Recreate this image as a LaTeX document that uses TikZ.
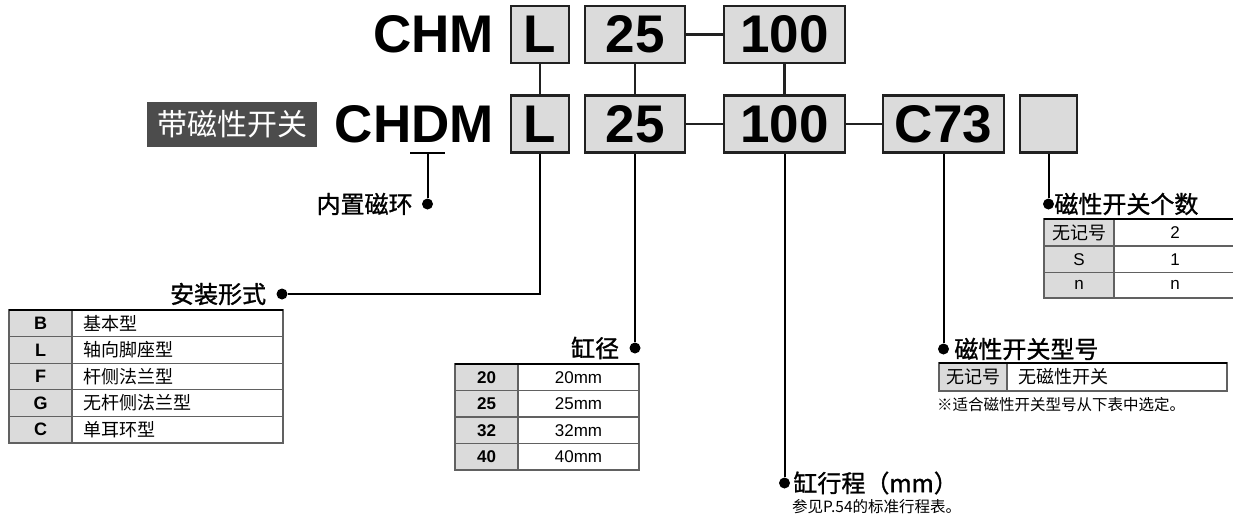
\documentclass[tikz,border=0pt]{standalone}
\usepackage{fontspec}
\setmainfont{Liberation Sans}
\newfontfamily\cjk{Noto Sans CJK SC}
\newfontfamily\cjkh{Noto Sans CJK SC}[FakeBold=1.2]
\usetikzlibrary{positioning}

\begin{document}
\begin{tikzpicture}[x=1pt,y=-1pt,
    codebox/.style={draw=black!87,line width=2.4pt,fill=black!14,minimum height=57pt,inner sep=0pt,font=\fontsize{53}{53}\selectfont\bfseries},
    code/.style={inner sep=0pt,font=\fontsize{53}{53}\selectfont\bfseries},
    conn/.style={draw=black!87,line width=2.4pt},
    lead/.style={line width=2pt},
    dot/.style={circle,fill=black,inner sep=0pt,minimum size=11pt},
    head/.style={inner sep=0pt,font=\cjkh\fontsize{24}{24}\selectfont},
    cell/.style={inner sep=0pt,font=\fontsize{17}{17}\selectfont},
    bcell/.style={inner sep=0pt,font=\fontsize{18}{18}\selectfont\bfseries},
    ccell/.style={inner sep=0pt,font=\cjk\fontsize{18}{18}\selectfont},
    rule/.style={draw=black!62,line width=1.2pt},
    toprule/.style={draw=black,line width=2.4pt},
    shade/.style={fill=black!14}]
\useasboundingbox (0,0) rectangle (1233,523);

% code rows
\node[code,anchor=east] (cha) at (494,34.5) {CHM};
\node[codebox,minimum width=58pt] (la) at (540,34.5) {L};
\node[codebox,minimum width=100pt] (ba) at (635,34.5) {25};
\node[codebox,minimum width=121pt] (sa) at (784.5,34.5) {100};

\node[fill=black!70,text=white,minimum width=170pt,minimum height=45pt,inner sep=0pt,font=\cjk\fontsize{30}{30}\selectfont] (tag) at (232,124.5) {带磁性开关};
\node[code,anchor=east] (chb) at (494,124) {CHDM};
\node[codebox,minimum width=58pt] (lb) at (540,124) {L};
\node[codebox,minimum width=100pt] (bb) at (635,124) {25};
\node[codebox,minimum width=121pt] (sb) at (784.5,124) {100};
\node[codebox,minimum width=121pt] (swb) at (943.5,124) {C73};
\node[codebox,minimum width=57pt] (nb) at (1048.5,124) {};

\draw[conn] (la) -- (lb);
\draw[conn] (ba) -- (bb);
\draw[conn] (sa) -- (sb);
\draw[conn] (ba) -- (sa);
\draw[conn] (bb) -- (sb);
\draw[conn] (sb) -- (swb);

% leads
\coordinate (ull) at (410,153);
\coordinate (ulr) at (445,153);
\draw[lead] (ull) -- (ulr);
\node[dot] (magdot) at (427.5,204) {};
\node[head,left=9pt of magdot] (magtxt) {内置磁环};
\draw[lead] (magdot) -- (magdot |- ull);

\node[dot] (mountdot) at (282,294) {};
\node[head,left=10pt of mountdot] (mounttxt) {安装形式};
\draw[lead] (lb) |- (mountdot);

\node[dot] (boredot) at (635,348) {};
\node[head,left=10pt of boredot] (boretxt) {缸径};
\draw[lead] (bb) -- (boredot);

\node[dot] (strokedot) at (784.5,483) {};
\node[head,right=3pt of strokedot] (stroketxt) {缸行程（mm）};
\node[ccell,font=\cjk\fontsize{15.5}{15.5}\selectfont,anchor=north west] (strokenote) at (792,499) {参见P.54的标准行程表。};
\draw[lead] (sb) -- (strokedot);

\node[dot] (swdot) at (943.5,349) {};
\node[head,right=5pt of swdot] (swtxt) {磁性开关型号};
\draw[lead] (swb) -- (swdot);

\node[dot] (numdot) at (1048.5,204) {};
\node[head,right=0pt of numdot] (numtxt) {磁性开关个数};
\draw[lead] (nb) -- (numdot);

% mounting table
\fill[shade] (9,310) rectangle (72,443);
\foreach \y in {336.6,363.2,389.8,416.4} \draw[rule] (9,\y) -- (283,\y);
\draw[rule] (9,310) rectangle (283,443);
\draw[rule] (72,310) -- (72,443);
\draw[toprule] (9,310) -- (283,310);
\foreach \k/\v [count=\i] in {B/基本型,L/轴向脚座型,F/杆侧法兰型,G/无杆侧法兰型,C/单耳环型} {
  \node[bcell] (mk\i) at (40.5,{296.7+26.6*\i}) {\k};
  \node[ccell,anchor=west] (mv\i) at (83,{296.7+26.6*\i}) {\v};
}

% bore table
\fill[shade] (455,364) rectangle (518,470);
\foreach \y in {390.5,417,443.5} \draw[rule] (455,\y) -- (639,\y);
\draw[rule] (455,364) rectangle (639,470);
\draw[rule] (518,364) -- (518,470);
\draw[toprule] (455,364) -- (639,364);
\foreach \k [count=\i] in {20,25,32,40} {
  \node[bcell,font=\fontsize{17}{17}\selectfont\bfseries] (bk\i) at (486.5,{350.75+26.5*\i}) {\k};
  \node[cell] (bv\i) at (578.5,{350.75+26.5*\i}) {\k mm};
}

% switch quantity table
\fill[shade] (1044,219) rectangle (1114,298);
\foreach \y in {246,272.5} \draw[rule] (1044,\y) -- (1236,\y);
\draw[rule] (1044,219) rectangle (1236,298);
\draw[rule] (1114,219) -- (1114,298);
\draw[toprule] (1044,219) -- (1236,219);
\node[ccell] (qk1) at (1079,232.5) {无记号};
\node[cell] (qv1) at (1175,232.5) {2};
\node[cell] (qk2) at (1079,259.25) {S};
\node[cell] (qv2) at (1175,259.25) {1};
\node[cell] (qk3) at (1079,285.25) {n};
\node[cell] (qv3) at (1175,285.25) {n};

% switch type table
\fill[shade] (939,363) rectangle (1007,391);
\draw[rule] (939,363) rectangle (1227,391);
\draw[rule] (1007,363) -- (1007,391);
\draw[toprule] (939,363) -- (1227,363);
\node[ccell] (tk1) at (973,377) {无记号};
\node[ccell,anchor=west] (tv1) at (1018,377) {无磁性开关};
\node[ccell,font=\cjk\fontsize{15.5}{15.5}\selectfont,anchor=north west] (swnote) at (937,397) {※适合磁性开关型号从下表中选定。};

\end{tikzpicture}
\end{document}
